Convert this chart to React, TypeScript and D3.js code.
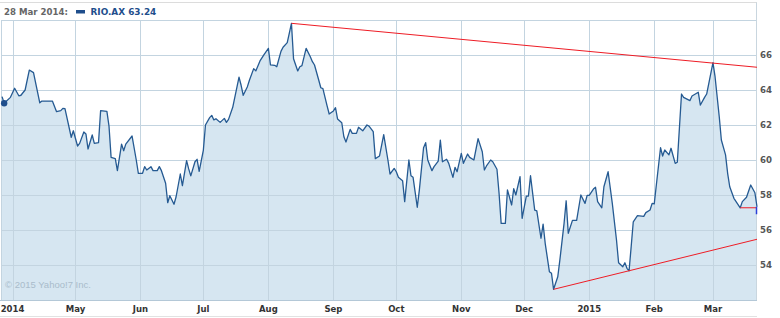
import React from "react";
import * as d3 from "d3";

const dates = [
  "2014-03-27","2014-03-28","2014-03-31","2014-04-02","2014-04-04","2014-04-05","2014-04-07","2014-04-09","2014-04-11","2014-04-14",
  "2014-04-15","2014-04-20","2014-04-22","2014-04-24","2014-04-25","2014-04-26","2014-04-29","2014-04-30","2014-05-02","2014-05-03",
  "2014-05-05","2014-05-06","2014-05-07","2014-05-09","2014-05-10","2014-05-12","2014-05-13","2014-05-16","2014-05-17","2014-05-18",
  "2014-05-20","2014-05-21","2014-05-23","2014-05-24","2014-05-25","2014-05-28","2014-05-30","2014-05-31","2014-06-02","2014-06-03",
  "2014-06-04","2014-06-06","2014-06-07","2014-06-09","2014-06-10","2014-06-11","2014-06-13","2014-06-14","2014-06-15","2014-06-17",
  "2014-06-18","2014-06-20","2014-06-21","2014-06-23","2014-06-24","2014-06-25","2014-06-27","2014-06-28","2014-06-29","2014-07-01",
  "2014-07-02","2014-07-04","2014-07-05","2014-07-06","2014-07-07","2014-07-09","2014-07-11","2014-07-12","2014-07-13","2014-07-15",
  "2014-07-18","2014-07-19","2014-07-20","2014-07-22","2014-07-23","2014-07-25","2014-07-26","2014-07-28","2014-07-30","2014-08-01",
  "2014-08-02","2014-08-04","2014-08-05","2014-08-07","2014-08-08","2014-08-10","2014-08-12","2014-08-13","2014-08-15","2014-08-16",
  "2014-08-17","2014-08-19","2014-08-21","2014-08-22","2014-08-23","2014-08-25","2014-08-26","2014-08-27","2014-08-29","2014-08-30",
  "2014-09-01","2014-09-02","2014-09-03","2014-09-05","2014-09-06","2014-09-07","2014-09-09","2014-09-10","2014-09-12","2014-09-13",
  "2014-09-15","2014-09-17","2014-09-18","2014-09-20","2014-09-21","2014-09-23","2014-09-25","2014-09-27","2014-09-28","2014-09-30",
  "2014-10-01","2014-10-02","2014-10-04","2014-10-05","2014-10-07","2014-10-08","2014-10-09","2014-10-11","2014-10-12","2014-10-14",
  "2014-10-15","2014-10-16","2014-10-18","2014-10-19","2014-10-21","2014-10-22","2014-10-23","2014-10-25","2014-10-26","2014-10-28",
  "2014-10-29","2014-10-30","2014-11-01","2014-11-02","2014-11-04","2014-11-05","2014-11-07","2014-11-09","2014-11-11","2014-11-12",
  "2014-11-13","2014-11-15","2014-11-16","2014-11-18","2014-11-19","2014-11-20","2014-11-22","2014-11-23","2014-11-25","2014-11-26",
  "2014-11-27","2014-11-29","2014-11-30","2014-12-02","2014-12-03","2014-12-04","2014-12-06","2014-12-07","2014-12-09","2014-12-10",
  "2014-12-11","2014-12-13","2014-12-14","2014-12-15","2014-12-17","2014-12-18","2014-12-20","2014-12-21","2014-12-22","2014-12-24",
  "2014-12-26","2014-12-28","2014-12-30","2014-12-31","2015-01-01","2015-01-03","2015-01-04","2015-01-05","2015-01-07","2015-01-08",
  "2015-01-10","2015-01-12","2015-01-14","2015-01-15","2015-01-17","2015-01-18","2015-01-19","2015-01-20","2015-01-21","2015-01-22",
  "2015-01-24","2015-01-27","2015-01-28","2015-01-30","2015-01-31","2015-02-01","2015-02-02","2015-02-04","2015-02-05","2015-02-06",
  "2015-02-08","2015-02-09","2015-02-11","2015-02-12","2015-02-14","2015-02-15","2015-02-18","2015-02-19","2015-02-22","2015-02-23",
  "2015-02-25","2015-02-26","2015-03-01","2015-03-02","2015-03-04","2015-03-05","2015-03-07","2015-03-08","2015-03-09","2015-03-11",
  "2015-03-14","2015-03-15","2015-03-17","2015-03-19","2015-03-21","2015-03-22",
];

const closes = [
  63.62,63.24,63.58,64.1,63.67,63.7,64.0,65.14,64.99,63.27,
  63.37,63.37,62.76,62.82,62.95,62.93,61.3,61.67,60.8,60.95,
  61.6,61.49,60.63,61.43,60.95,60.99,62.82,62.78,61.94,60.15,
  60.08,59.39,60.91,60.53,60.91,61.37,60.0,59.24,59.24,59.62,
  59.43,59.62,59.39,59.39,59.62,59.39,58.67,57.56,57.96,57.47,
  57.9,59.2,58.53,59.96,59.49,59.09,59.9,60.04,59.35,60.57,
  62.0,62.42,62.55,62.29,62.36,62.15,62.38,62.15,62.32,63.01,
  64.73,64.27,63.7,64.19,64.57,65.22,65.09,65.66,66.04,66.38,
  65.43,65.41,65.33,66.21,66.44,66.71,67.81,65.79,65.09,65.33,
  65.39,66.38,65.9,65.62,65.43,64.57,64.13,64.08,63.09,62.63,
  62.8,62.99,62.34,62.13,61.33,61.03,61.75,61.52,61.52,61.87,
  61.67,62.0,61.94,61.62,60.08,60.23,61.45,60.0,59.2,59.52,
  59.33,59.01,58.82,57.62,60.0,59.1,59.01,57.3,58.29,60.7,
  60.99,60.0,59.39,59.62,59.94,61.14,59.9,60.04,59.81,59.01,
  59.58,59.33,60.38,59.81,60.34,60.15,60.0,61.22,60.47,59.43,
  59.66,60.0,59.9,59.47,58.1,56.38,56.38,58.29,57.43,58.36,
  58.0,59.05,56.67,57.94,57.94,59.1,57.14,57.09,55.53,56.34,
  55.24,53.62,53.53,52.61,53.33,54.29,56.38,57.67,55.81,56.55,
  56.55,58.0,57.52,57.98,57.98,58.34,58.44,57.62,57.27,58.47,
  59.33,57.52,55.43,54.13,53.9,54.13,53.81,53.67,55.05,56.47,
  56.82,56.78,56.99,57.14,57.52,57.49,58.57,60.7,60.23,60.57,
  60.29,60.67,59.81,59.87,63.77,63.58,63.39,63.66,63.87,63.14,
  63.58,63.77,65.56,64.76,62.47,61.14,60.29,59.24,58.47,57.81,
  57.27,57.62,57.87,58.57,58.13,57.33,
];

const tickDates = ["2014-04-01","2014-05-01","2014-06-01","2014-07-01","2014-08-01","2014-09-01","2014-10-01","2014-11-01","2014-12-01","2015-01-01","2015-02-01","2015-03-01"];
const tickLabels = ["2014","May","Jun","Jul","Aug","Sep","Oct","Nov","Dec","2015","Feb","Mar"];
const yTicks = [54, 56, 58, 60, 62, 64, 66];

const resistanceDates = ["2014-08-12", "2015-03-22"];
const resistanceValues = [67.81, 65.3];
const supportTrendDates = ["2014-12-15", "2015-03-22"];
const supportTrendValues = [52.61, 55.47];
const supportLevelDates = ["2015-03-14", "2015-03-22"];
const supportLevelValues = [57.27, 57.27];
const endMarkerValues = [57.33, 56.9];

const headerDate = "28 Mar 2014:";
const headerSymbol = "RIO.AX";
const headerValue = "63.24";
const hoverDate = "2014-03-28";
const copyright = "© 2015 Yahoo!7 Inc.";

const parse = d3.timeParse("%Y-%m-%d");

export default function App() {
  const W = 780, H = 318;
  const left = 1, right = 757, top = 20, bottom = 300;
  const x = d3.scaleTime()
    .domain([new Date(2014, 2, 26, 12), new Date(2015, 2, 22)])
    .range([left, right]);
  const y = d3.scaleLinear().domain([52, 68]).range([bottom, top]);

  const pts = dates.map((d, i) => ({ date: parse(d) as Date, v: closes[i] }));
  const area = d3.area<{ date: Date; v: number }>()
    .x(d => x(d.date)).y0(y(52)).y1(d => y(d.v));
  const line = d3.line<{ date: Date; v: number }>()
    .x(d => x(d.date)).y(d => y(d.v));
  const seg = (ds: string[], vs: number[]) =>
    line(ds.map((d, i) => ({ date: parse(d) as Date, v: vs[i] }))) || "";

  const hover = pts.find(p => +p.date === +(parse(hoverDate) as Date))!;
  const last = pts[pts.length - 1];
  const font = "'DejaVu Sans', Verdana, sans-serif";
  const grid = "#c3d4e0";

  return (
    <svg width={W} height={H} style={{ position: "fixed", left: 0, top: 0, background: "#fff" }}>
      {/* header frame */}
      <line x1={0} x2={right} y1={2.5} y2={2.5} stroke="#dcdcdc" />
      <path d={area(pts) || ""} fill="#d6e6f1" />
      {yTicks.concat([68]).map(t => (
        <line key={"h" + t} x1={left} x2={right} y1={Math.round(y(t)) + 0.5} y2={Math.round(y(t)) + 0.5} stroke={grid} />
      ))}
      {tickDates.map(t => {
        const xx = Math.round(x(parse(t) as Date)) + 0.5;
        return <line key={"v" + t} x1={xx} x2={xx} y1={top} y2={bottom} stroke={grid} />;
      })}
      <line x1={1.5} x2={1.5} y1={top} y2={bottom} stroke={grid} />
      <line x1={right - 0.5} x2={right - 0.5} y1={2.5} y2={bottom} stroke="#c9d6df" />
      <line x1={0} x2={right} y1={bottom + 0.5} y2={bottom + 0.5} stroke="#b4c8d7" />
      <line x1={0} x2={right} y1={316.5} y2={316.5} stroke="#e2e2e2" />

      <text x={5} y={288} fontFamily="'Liberation Sans', Arial, sans-serif" fontSize={9.5} fill="#a9bccb">{copyright}</text>

      <path d={line(pts) || ""} fill="none" stroke="#255a92" strokeWidth={1.3} strokeLinejoin="round" />

      <path d={seg(resistanceDates, resistanceValues)} stroke="#ee1c25" strokeWidth={1} fill="none" />
      <path d={seg(supportTrendDates, supportTrendValues)} stroke="#ee1c25" strokeWidth={1} fill="none" />
      <path d={seg(supportLevelDates, supportLevelValues)} stroke="#ee1c25" strokeWidth={1} fill="none" />
      <line x1={x(last.date) - 0.5} x2={x(last.date) - 0.5} y1={y(endMarkerValues[0])} y2={y(endMarkerValues[1])} stroke="#2a3fd8" strokeWidth={1.5} />

      <circle cx={x(hover.date)} cy={y(hover.v)} r={3.2} fill="#1f4e8c" />

      {yTicks.map(t => (
        <text key={"yl" + t} x={760} y={y(t)} dy="0.35em" fontFamily={font} fontWeight="bold" fontSize={8.6} fill="#555">{t}</text>
      ))}
      {tickDates.map((t, i) => (
        <text key={"xl" + t} x={x(parse(t) as Date)} y={312} textAnchor="middle" fontFamily={font} fontWeight="bold" fontSize={8.5} fill="#333">{tickLabels[i]}</text>
      ))}

      <text x={4} y={15} fontFamily={font} fontWeight="bold" fontSize={8.6} fill="#666">{headerDate}</text>
      <rect x={76} y={10} width={9} height={3.5} fill="#1f4e8c" />
      <text x={90.5} y={15} fontFamily={font} fontWeight="bold" fontSize={8.9} fill="#1f4e8c">{headerSymbol + " " + headerValue}</text>
    </svg>
  );
}
